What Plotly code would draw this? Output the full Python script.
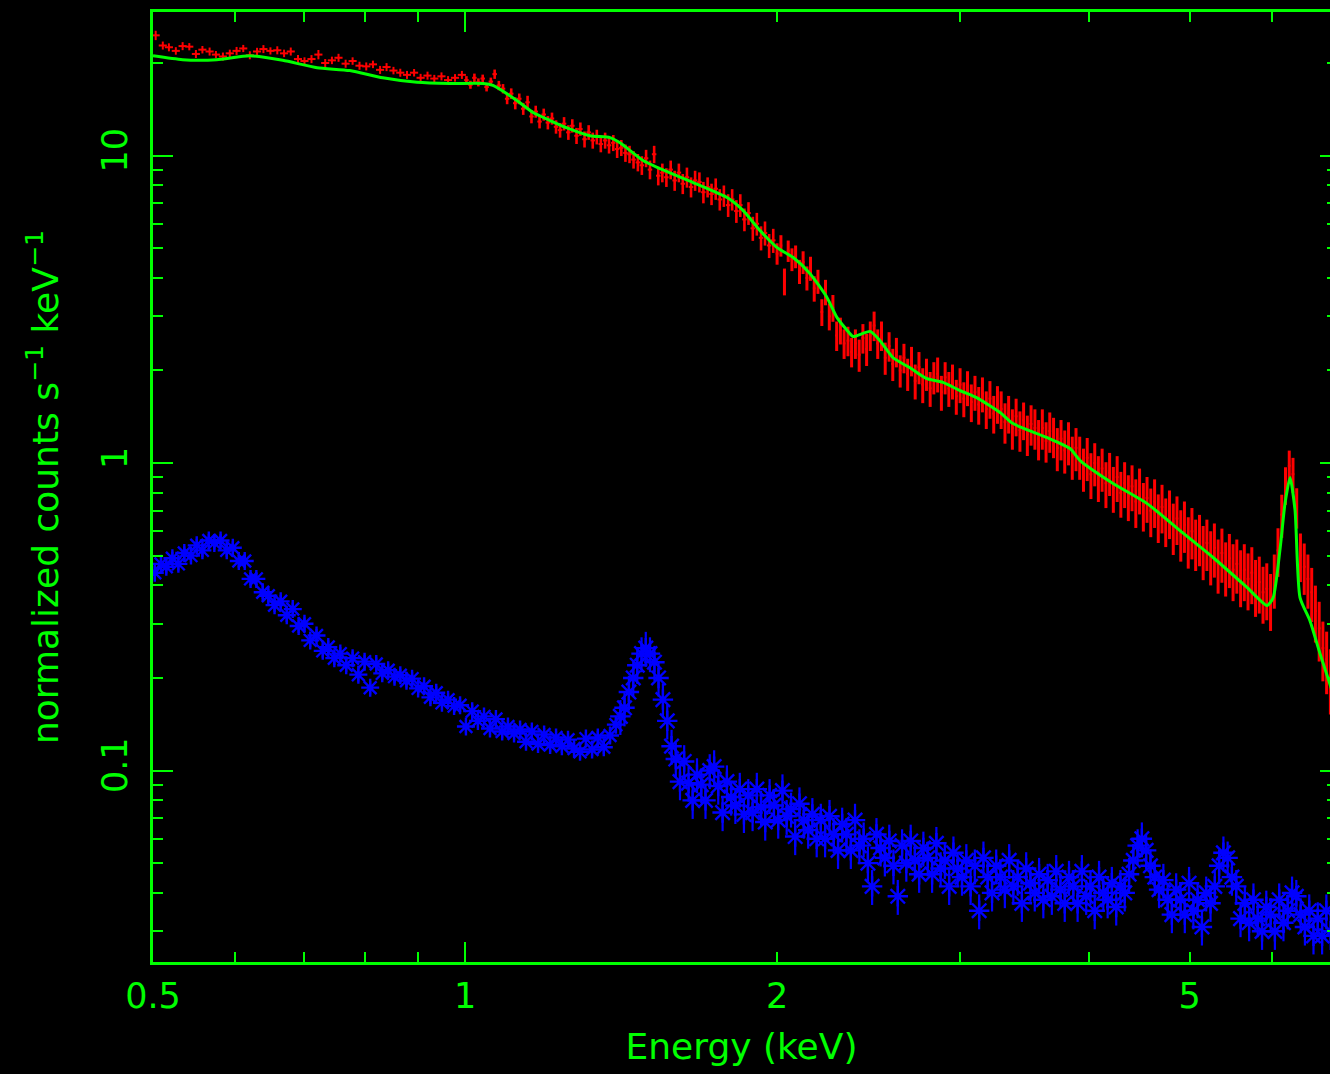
import math
import plotly.graph_objects as go

# ---------------- data ----------------
# red spectrum: (energy keV, normalized counts s^-1 keV^-1, relative error)
red_soft = [
    (0.503, 24.6, 0.035), (0.511, 22.8, 0.03), (0.518, 22.5, 0.03), (0.526, 21.9, 0.028), (0.534, 22.7, 0.03),
    (0.542, 22.6, 0.027), (0.550, 21.4, 0.03), (0.558, 22.1, 0.028), (0.567, 21.8, 0.03), (0.575, 21.3, 0.027),
    (0.584, 21.0, 0.03), (0.593, 21.5, 0.028), (0.602, 21.9, 0.03), (0.611, 22.3, 0.027), (0.620, 21.2, 0.03),
    (0.630, 21.8, 0.028), (0.639, 22.2, 0.03), (0.649, 21.9, 0.027), (0.659, 22.0, 0.03), (0.669, 21.5, 0.028),
    (0.679, 21.8, 0.03), (0.690, 20.6, 0.03), (0.700, 20.3, 0.028), (0.711, 20.6, 0.03), (0.722, 21.3, 0.035),
    (0.733, 20.0, 0.03), (0.744, 20.4, 0.028), (0.755, 20.8, 0.03), (0.767, 19.9, 0.03), (0.779, 20.3, 0.028),
    (0.791, 19.6, 0.03), (0.803, 19.5, 0.03), (0.815, 19.8, 0.028), (0.828, 19.0, 0.03), (0.840, 19.4, 0.03),
    (0.853, 18.9, 0.028), (0.866, 18.6, 0.03), (0.879, 18.3, 0.03), (0.893, 18.6, 0.028), (0.906, 17.9, 0.03),
    (0.920, 18.2, 0.03), (0.934, 17.8, 0.028), (0.949, 18.1, 0.03), (0.963, 17.6, 0.03), (0.978, 17.9, 0.028),
    (0.993, 18.3, 0.03),
]
red_mid = [
    (1.003, 17.6, 0.03), (1.012, 17.0, 0.03), (1.021, 17.9, 0.032), (1.030, 17.3, 0.03), (1.040, 17.8, 0.03),
    (1.049, 16.7, 0.032), (1.059, 17.4, 0.03), (1.068, 18.4, 0.035), (1.078, 16.9, 0.035), (1.088, 16.5, 0.035),
    (1.098, 15.3, 0.04), (1.108, 15.9, 0.04), (1.118, 14.8, 0.045), (1.128, 15.3, 0.04), (1.138, 14.2, 0.045),
    (1.149, 14.9, 0.05), (1.159, 13.4, 0.05), (1.170, 13.9, 0.045), (1.180, 12.9, 0.05), (1.191, 13.6, 0.045),
    (1.202, 12.8, 0.05), (1.213, 13.2, 0.045), (1.224, 12.4, 0.05), (1.235, 12.1, 0.055), (1.246, 12.7, 0.05),
    (1.258, 11.9, 0.055), (1.269, 12.5, 0.05), (1.281, 11.6, 0.06), (1.292, 12.2, 0.05), (1.304, 11.3, 0.06),
    (1.316, 11.9, 0.055), (1.328, 11.2, 0.06), (1.340, 11.5, 0.055), (1.352, 10.9, 0.06), (1.365, 11.2, 0.06),
    (1.377, 10.8, 0.06), (1.390, 11.0, 0.06), (1.402, 10.5, 0.065), (1.415, 10.6, 0.06), (1.428, 10.2, 0.065),
    (1.441, 10.1, 0.065), (1.454, 9.7, 0.065), (1.468, 9.5, 0.065), (1.481, 9.3, 0.07), (1.495, 9.8, 0.065),
    (1.508, 9.0, 0.07), (1.522, 10.1, 0.065), (1.536, 8.6, 0.07), (1.550, 8.8, 0.07), (1.564, 8.5, 0.07),
    (1.579, 9.0, 0.07), (1.593, 8.3, 0.075), (1.608, 8.8, 0.07), (1.622, 8.1, 0.075), (1.637, 8.5, 0.075),
    (1.652, 7.9, 0.075), (1.667, 8.3, 0.075), (1.683, 8.2, 0.075), (1.698, 7.6, 0.08), (1.714, 7.9, 0.075),
    (1.729, 7.5, 0.08), (1.745, 7.8, 0.08), (1.761, 7.2, 0.08), (1.777, 7.4, 0.08), (1.794, 6.9, 0.085),
    (1.810, 7.2, 0.08), (1.827, 6.6, 0.085), (1.843, 6.9, 0.085), (1.860, 6.2, 0.085), (1.877, 6.5, 0.085),
    (1.895, 5.8, 0.09), (1.912, 6.0, 0.085), (1.930, 5.4, 0.09), (1.947, 5.6, 0.09), (1.965, 5.1, 0.09),
    (1.983, 5.3, 0.09),
]
red_hard = [
    (2.000, 4.8, 0.08), (2.017, 5.1, 0.08), (2.033, 3.9, 0.1), (2.050, 4.9, 0.08), (2.067, 4.6, 0.085),
    (2.084, 4.7, 0.085), (2.102, 4.2, 0.09), (2.119, 4.5, 0.085), (2.137, 4.0, 0.09), (2.154, 4.3, 0.09),
    (2.172, 3.7, 0.095), (2.190, 3.9, 0.09), (2.209, 3.1, 0.1), (2.227, 3.6, 0.095), (2.246, 3.0, 0.1),
    (2.264, 3.2, 0.1), (2.283, 2.6, 0.11), (2.302, 2.7, 0.1), (2.321, 2.45, 0.11), (2.341, 2.5, 0.11),
    (2.360, 2.3, 0.11), (2.380, 2.45, 0.11), (2.400, 2.25, 0.12), (2.420, 2.55, 0.11), (2.440, 2.35, 0.12),
    (2.460, 2.6, 0.11), (2.481, 2.8, 0.11), (2.501, 2.45, 0.11), (2.522, 2.6, 0.11), (2.543, 2.2, 0.12),
    (2.565, 2.4, 0.11), (2.586, 2.1, 0.12), (2.607, 2.3, 0.11), (2.629, 2.0, 0.12), (2.651, 2.2, 0.11),
    (2.673, 1.95, 0.12), (2.696, 2.15, 0.11), (2.718, 1.85, 0.13), (2.741, 2.05, 0.12), (2.764, 1.8, 0.13),
    (2.787, 1.95, 0.12), (2.810, 1.75, 0.13), (2.833, 1.9, 0.12), (2.857, 1.95, 0.13), (2.881, 1.7, 0.13),
    (2.905, 1.9, 0.12), (2.929, 1.75, 0.13), (2.953, 1.85, 0.13), (2.978, 1.65, 0.13), (3.003, 1.8, 0.13),
    (3.028, 1.62, 0.13), (3.053, 1.76, 0.13), (3.079, 1.58, 0.14), (3.104, 1.7, 0.13), (3.130, 1.55, 0.14),
    (3.156, 1.68, 0.13), (3.183, 1.5, 0.14), (3.209, 1.62, 0.14), (3.236, 1.45, 0.14), (3.263, 1.56, 0.14),
    (3.290, 1.5, 0.14), (3.318, 1.36, 0.15), (3.345, 1.45, 0.14), (3.373, 1.3, 0.15), (3.401, 1.42, 0.14),
    (3.430, 1.28, 0.15), (3.458, 1.38, 0.14), (3.487, 1.24, 0.15), (3.516, 1.34, 0.15), (3.546, 1.3, 0.15),
    (3.575, 1.2, 0.15), (3.605, 1.3, 0.15), (3.635, 1.18, 0.15), (3.665, 1.27, 0.15), (3.696, 1.22, 0.15),
    (3.727, 1.12, 0.16), (3.758, 1.2, 0.15), (3.789, 1.1, 0.16), (3.821, 1.17, 0.16), (3.853, 1.05, 0.16),
    (3.885, 1.12, 0.16), (3.917, 1.05, 0.16), (3.950, 0.96, 0.16), (3.983, 1.04, 0.16), (4.016, 0.92, 0.17),
    (4.050, 1.0, 0.16), (4.083, 0.9, 0.17), (4.117, 0.96, 0.16), (4.152, 0.86, 0.17), (4.186, 0.93, 0.16),
    (4.221, 0.83, 0.17), (4.257, 0.9, 0.17), (4.292, 0.8, 0.17), (4.328, 0.86, 0.17), (4.364, 0.78, 0.17),
    (4.400, 0.84, 0.17), (4.437, 0.75, 0.18), (4.474, 0.82, 0.17), (4.512, 0.73, 0.18), (4.549, 0.77, 0.17),
    (4.587, 0.7, 0.18), (4.626, 0.75, 0.18), (4.664, 0.67, 0.18), (4.703, 0.72, 0.18), (4.742, 0.65, 0.18),
    (4.782, 0.69, 0.18), (4.822, 0.62, 0.19), (4.862, 0.66, 0.18), (4.903, 0.59, 0.19), (4.943, 0.63, 0.19),
    (4.985, 0.56, 0.19), (5.026, 0.6, 0.19), (5.068, 0.55, 0.19), (5.111, 0.57, 0.19), (5.153, 0.52, 0.2),
    (5.196, 0.55, 0.19), (5.240, 0.5, 0.2), (5.283, 0.53, 0.2), (5.327, 0.47, 0.2), (5.372, 0.51, 0.2),
    (5.417, 0.46, 0.2), (5.462, 0.49, 0.2), (5.507, 0.45, 0.21), (5.553, 0.47, 0.2), (5.600, 0.43, 0.21),
    (5.646, 0.45, 0.21), (5.693, 0.42, 0.21), (5.741, 0.44, 0.21), (5.789, 0.4, 0.21), (5.837, 0.41, 0.21),
    (5.886, 0.38, 0.21), (5.935, 0.39, 0.21), (5.985, 0.36, 0.21), (6.035, 0.42, 0.2), (6.085, 0.52, 0.18),
    (6.136, 0.68, 0.16), (6.187, 0.85, 0.14), (6.239, 0.98, 0.12), (6.291, 0.92, 0.13), (6.343, 0.72, 0.15),
    (6.396, 0.5, 0.18), (6.450, 0.46, 0.19), (6.503, 0.42, 0.2), (6.558, 0.38, 0.2), (6.612, 0.33, 0.21),
    (6.668, 0.29, 0.22), (6.723, 0.25, 0.22), (6.779, 0.23, 0.23), (6.836, 0.2, 0.24),
]

# green model curve: (energy keV, model counts)
model_curve = [
    (0.500, 21.1), (0.534, 20.5), (0.576, 20.5), (0.620, 21.1), (0.667, 20.4), (0.720, 19.3),
    (0.774, 18.9), (0.833, 17.9), (0.899, 17.3), (0.967, 17.15), (1.041, 17.15), (1.064, 16.9),
    (1.122, 15.1), (1.163, 13.8), (1.208, 13.0), (1.254, 12.3), (1.320, 11.6), (1.380, 11.44),
    (1.411, 11.0), (1.485, 9.63), (1.542, 9.07), (1.660, 8.17), (1.790, 7.30), (1.854, 6.63),
    (1.926, 5.70), (2.000, 5.02), (2.073, 4.66), (2.152, 4.13), (2.235, 3.45), (2.285, 2.97),
    (2.337, 2.70), (2.368, 2.58), (2.459, 2.68), (2.514, 2.50), (2.588, 2.20), (2.687, 2.04),
    (2.790, 1.88), (2.891, 1.83), (3.003, 1.72), (3.118, 1.63), (3.282, 1.46), (3.378, 1.344),
    (3.644, 1.21), (3.834, 1.115), (3.921, 1.019), (4.219, 0.858), (4.550, 0.738), (4.895, 0.603),
    (5.268, 0.493), (5.680, 0.394), (5.940, 0.344), (6.020, 0.365), (6.115, 0.531), (6.180, 0.738),
    (6.250, 0.897), (6.320, 0.701), (6.390, 0.365), (6.530, 0.308), (6.680, 0.240), (6.860, 0.182),
]

# blue spectrum: (energy keV, normalized counts)
blue_soft = [
    (0.502, 0.44), (0.509, 0.47), (0.515, 0.46), (0.522, 0.49), (0.529, 0.47), (0.536, 0.51),
    (0.544, 0.50), (0.551, 0.54), (0.558, 0.52), (0.566, 0.56), (0.573, 0.55), (0.581, 0.56),
    (0.589, 0.52), (0.597, 0.53), (0.605, 0.48), (0.613, 0.48), (0.621, 0.42), (0.629, 0.42),
    (0.638, 0.38), (0.646, 0.37), (0.655, 0.345), (0.664, 0.355), (0.673, 0.32), (0.682, 0.335),
    (0.691, 0.295), (0.700, 0.30), (0.709, 0.265), (0.719, 0.275), (0.729, 0.245), (0.738, 0.252),
    (0.748, 0.232), (0.758, 0.24), (0.768, 0.22), (0.779, 0.232), (0.789, 0.205), (0.800, 0.226),
    (0.810, 0.186), (0.821, 0.222), (0.832, 0.207), (0.843, 0.212), (0.855, 0.202), (0.866, 0.204),
    (0.878, 0.196), (0.889, 0.199), (0.901, 0.185), (0.913, 0.188), (0.926, 0.173), (0.938, 0.179),
    (0.950, 0.166), (0.963, 0.17), (0.976, 0.162), (0.989, 0.163), (1.002, 0.139), (1.016, 0.156),
    (1.029, 0.145), (1.043, 0.15), (1.057, 0.137), (1.071, 0.147), (1.086, 0.134), (1.100, 0.139),
    (1.115, 0.132), (1.130, 0.136), (1.145, 0.124), (1.160, 0.134), (1.176, 0.122), (1.192, 0.131),
    (1.208, 0.121), (1.224, 0.128), (1.240, 0.12), (1.257, 0.126), (1.274, 0.118), (1.291, 0.115),
    (1.308, 0.127), (1.326, 0.117), (1.343, 0.128), (1.361, 0.119), (1.380, 0.13), (1.398, 0.141),
]
blue_hard = [
    (1.412, 0.15), (1.425, 0.16), (1.439, 0.18), (1.453, 0.2), (1.466, 0.22), (1.480, 0.24),
    (1.494, 0.25), (1.508, 0.24), (1.523, 0.225), (1.537, 0.2), (1.552, 0.17), (1.567, 0.145),
    (1.582, 0.12), (1.597, 0.109), (1.612, 0.092), (1.627, 0.107), (1.643, 0.091), (1.658, 0.080),
    (1.674, 0.097), (1.690, 0.090), (1.706, 0.080), (1.722, 0.100), (1.739, 0.103), (1.755, 0.089),
    (1.772, 0.073), (1.789, 0.092), (1.806, 0.082), (1.823, 0.077), (1.841, 0.087), (1.858, 0.072),
    (1.876, 0.083), (1.894, 0.073), (1.912, 0.087), (1.930, 0.076), (1.948, 0.068), (1.967, 0.083),
    (1.986, 0.077), (2.005, 0.069), (2.024, 0.086), (2.043, 0.071), (2.063, 0.075), (2.082, 0.061),
    (2.102, 0.078), (2.122, 0.069), (2.143, 0.064), (2.163, 0.072), (2.184, 0.060), (2.204, 0.069),
    (2.225, 0.060), (2.247, 0.071), (2.268, 0.062), (2.290, 0.055), (2.311, 0.067), (2.333, 0.062),
    (2.356, 0.055), (2.378, 0.069), (2.401, 0.057), (2.424, 0.060), (2.447, 0.050), (2.470, 0.042),
    (2.494, 0.062), (2.517, 0.056), (2.541, 0.052), (2.566, 0.059), (2.590, 0.049), (2.615, 0.039),
    (2.640, 0.057), (2.665, 0.050), (2.691, 0.059), (2.716, 0.051), (2.742, 0.046), (2.768, 0.056),
    (2.795, 0.052), (2.822, 0.046), (2.849, 0.058), (2.876, 0.048), (2.903, 0.051), (2.931, 0.042),
    (2.959, 0.054), (2.987, 0.048), (3.016, 0.045), (3.045, 0.051), (3.074, 0.042), (3.103, 0.049),
    (3.133, 0.035), (3.163, 0.052), (3.193, 0.045), (3.224, 0.040), (3.254, 0.049), (3.285, 0.045),
    (3.317, 0.041), (3.349, 0.051), (3.380, 0.042), (3.413, 0.045), (3.445, 0.037), (3.478, 0.048),
    (3.511, 0.043), (3.545, 0.040), (3.579, 0.046), (3.613, 0.038), (3.648, 0.044), (3.682, 0.039),
    (3.718, 0.047), (3.753, 0.041), (3.789, 0.037), (3.825, 0.045), (3.862, 0.042), (3.899, 0.037),
    (3.936, 0.047), (3.974, 0.039), (4.012, 0.042), (4.050, 0.035), (4.089, 0.045), (4.128, 0.040),
    (4.168, 0.038), (4.207, 0.043), (4.248, 0.036), (4.288, 0.042), (4.329, 0.040), (4.371, 0.046),
    (4.412, 0.051), (4.455, 0.057), (4.497, 0.060), (4.540, 0.055), (4.584, 0.049), (4.628, 0.045),
    (4.672, 0.041), (4.717, 0.044), (4.762, 0.038), (4.807, 0.034), (4.853, 0.041), (4.900, 0.038),
    (4.947, 0.034), (4.994, 0.043), (5.042, 0.035), (5.090, 0.038), (5.139, 0.031), (5.188, 0.040),
    (5.238, 0.037), (5.288, 0.042), (5.339, 0.049), (5.390, 0.054), (5.441, 0.052), (5.493, 0.045),
    (5.546, 0.042), (5.599, 0.033), (5.653, 0.037), (5.707, 0.032), (5.762, 0.038), (5.817, 0.033),
    (5.873, 0.030), (5.929, 0.036), (5.986, 0.034), (6.043, 0.030), (6.101, 0.038), (6.159, 0.032),
    (6.218, 0.035), (6.278, 0.040), (6.338, 0.039), (6.399, 0.034), (6.460, 0.031), (6.522, 0.035),
    (6.584, 0.029), (6.647, 0.033), (6.711, 0.029), (6.775, 0.035), (6.840, 0.030),
]
blue_err_pct_soft = 5.0
blue_err_pct_hard = 13.0

x_tick_vals = [0.5, 1, 2, 5]
x_tick_text = ["0.5", "1", "2", "5"]
x_minor_vals = [0.6, 0.7, 0.8, 0.9, 3, 4, 6]
y_tick_vals = [0.1, 1, 10]
y_tick_text = ["0.1", "1", "10"]
y_minor_vals = [0.03, 0.04, 0.05, 0.06, 0.07, 0.08, 0.09,
                0.2, 0.3, 0.4, 0.5, 0.6, 0.7, 0.8, 0.9,
                2, 3, 4, 5, 6, 7, 8, 9, 20]
x_limits = [0.5, 6.83]
y_limits = [0.02384, 29.3]

# ---------------- figure ----------------
GREEN = "#00ff00"
RED = "#ff0000"
BLUE = "#0000ff"
FONT = "DejaVu Sans"

fig = go.Figure()

for seg, pct, msize in [(blue_soft, blue_err_pct_soft, 15), (blue_hard, blue_err_pct_hard, 17)]:
    fig.add_trace(go.Scatter(
        x=[p[0] for p in seg], y=[p[1] for p in seg], mode="markers",
        marker=dict(symbol="asterisk-open", size=msize, color=BLUE,
                    line=dict(color=BLUE, width=2.4)),
        error_y=dict(type="percent", value=pct, color=BLUE, thickness=2.2, width=0),
        showlegend=False, hoverinfo="skip"))

for seg, xpct, thick in [(red_soft, 0.9, 2.0), (red_mid, 0.5, 2.6), (red_hard, 0.3, 3.0)]:
    fig.add_trace(go.Scatter(
        x=[p[0] for p in seg], y=[p[1] for p in seg], mode="markers",
        marker=dict(size=2, color=RED),
        error_y=dict(type="data", array=[p[1] * p[2] for p in seg],
                     color=RED, thickness=thick, width=0),
        error_x=dict(type="percent", value=xpct, color=RED, thickness=2, width=0),
        showlegend=False, hoverinfo="skip"))

fig.add_trace(go.Scatter(
    x=[p[0] for p in model_curve], y=[p[1] for p in model_curve], mode="lines",
    line=dict(color=GREEN, width=3, shape="spline", smoothing=0.6),
    showlegend=False, hoverinfo="skip"))

# helper trace for the overlay axes (long tick at 1 keV, right-hand ticks)
fig.add_trace(go.Scatter(x=[None], y=[None], xaxis="x2", yaxis="y2",
                         showlegend=False, hoverinfo="skip"))

xr = [math.log10(x_limits[0]), math.log10(x_limits[1])]
yr = [math.log10(y_limits[0]), math.log10(y_limits[1])]
tick_font = dict(family=FONT, size=35, color=GREEN)

fig.update_layout(
    width=1330, height=1074,
    margin=dict(l=153, r=0, t=12, b=112, pad=0),
    paper_bgcolor="black", plot_bgcolor="black",
    showlegend=False, hovermode=False,
    xaxis=dict(
        type="log", range=xr, tickvals=x_tick_vals, ticktext=x_tick_text,
        ticks="inside", ticklen=10, tickwidth=2, tickcolor=GREEN,
        showline=True, linecolor=GREEN, linewidth=3, mirror="allticks",
        showgrid=False, zeroline=False, tickfont=tick_font, ticklabelstandoff=1,
        minor=dict(tickvals=x_minor_vals, ticks="inside", ticklen=10, tickwidth=2,
                   tickcolor=GREEN, showgrid=False),
        title=dict(text="Energy (keV)", font=dict(family=FONT, size=36, color=GREEN), standoff=19),
    ),
    xaxis2=dict(
        type="log", range=xr, overlaying="x", anchor="y", side="bottom",
        tickvals=[1], ticks="inside", ticklen=20, tickwidth=2, tickcolor=GREEN,
        showticklabels=False, showline=False, mirror="allticks",
        showgrid=False, zeroline=False,
    ),
    yaxis=dict(
        type="log", range=yr, tickvals=y_tick_vals, ticktext=y_tick_text, tickangle=-90,
        ticks="inside", ticklen=20, tickwidth=2, tickcolor=GREEN,
        showline=True, linecolor=GREEN, linewidth=3, mirror=False,
        showgrid=False, zeroline=False, tickfont=tick_font, ticklabelstandoff=9,
        minor=dict(tickvals=y_minor_vals, ticks="inside", ticklen=10, tickwidth=2,
                   tickcolor=GREEN, showgrid=False),
        title=dict(text="normalized counts s<sup>\u22121</sup> keV<sup>\u22121</sup>",
                   font=dict(family=FONT, size=36, color=GREEN), standoff=26),
    ),
    yaxis2=dict(
        type="log", range=yr, overlaying="y", anchor="x", side="right",
        tickvals=y_tick_vals, ticks="inside", ticklen=10, tickwidth=2, tickcolor=GREEN,
        showticklabels=False, showline=False, showgrid=False, zeroline=False,
        minor=dict(tickvals=y_minor_vals, ticks="inside", ticklen=3, tickwidth=2,
                   tickcolor=GREEN, showgrid=False),
    ),
)

fig.write_html("out.html")
